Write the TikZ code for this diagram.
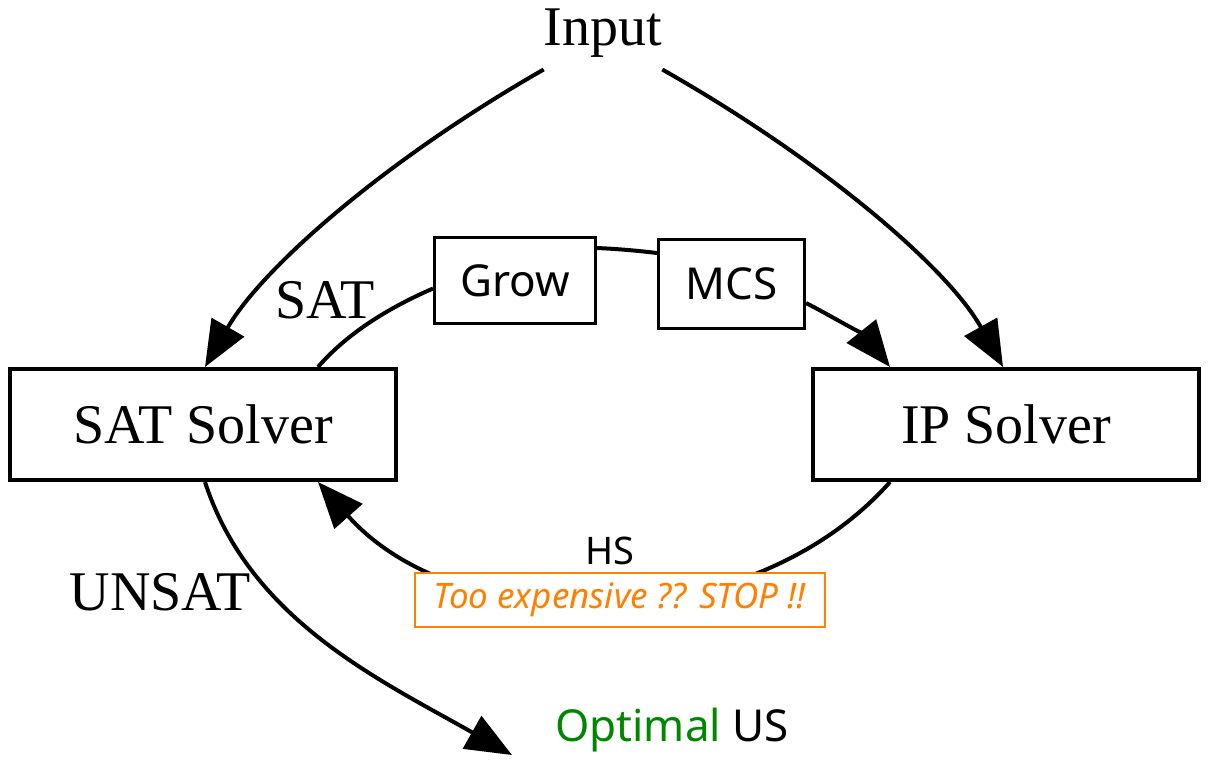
\documentclass[tikz,border=0pt]{standalone}
\usepackage{fontspec}
\setmainfont{Liberation Serif}
\newfontfamily\uisans{Noto Sans}
\usetikzlibrary{arrows.meta,calc}
\definecolor{warnorange}{RGB}{255,128,0}
\definecolor{optgreen}{RGB}{0,135,0}
\begin{document}
\begin{tikzpicture}[x=1pt,y=-1pt,
  seriflabel/.style={inner sep=0pt, font=\fontsize{56}{62}\selectfont},
  solver/.style={draw, line width=4pt, minimum width=386pt, minimum height=111pt, inner sep=0pt, font=\fontsize{56}{62}\selectfont},
  smallbox/.style={draw, line width=3pt, inner sep=0pt, font=\uisans\fontsize{44}{50}\selectfont},
  sanslabel/.style={inner sep=0pt, font=\uisans\fontsize{40}{46}\selectfont},
  edgeline/.style={line width=4pt},
  arr/.style={edgeline, -{Triangle[length=46pt,width=37pt]}},
  warnbox/.style={draw=warnorange, line width=2.5pt, fill=white, text=warnorange, minimum width=410pt, minimum height=54pt, inner sep=0pt, font=\uisans\itshape\fontsize{35}{40}\selectfont}
]
\useasboundingbox (0,0) rectangle (1215,774);

\node[seriflabel] (input) at (603,33) {Input};
\node[solver] (sat) at (203,424.5) {SAT Solver};
\node[solver] (ip) at (1006,424.5) {IP Solver};
\node[smallbox, minimum width=161pt, minimum height=86pt] (grow) at (515,280.5) {Grow};
\node[smallbox, minimum width=146pt, minimum height=89pt] (mcs) at (731.5,284) {MCS};
\node[seriflabel] (satlabel) at (325,300) {SAT};
\node[seriflabel] (unsatlabel) at (160,592) {UNSAT};
\node[sanslabel, font=\uisans\fontsize{38}{44}\selectfont] (hs) at (610,551) {HS};
\node[sanslabel, font=\uisans\fontsize{44}{50}\selectfont] (opt) at (672,730) {{\color{optgreen}Optimal} US};
\coordinate (usend) at (512,755);

% Input -> SAT Solver
\draw[arr] ($(input.south west)+(0,12)$) .. controls (385,160) and (262,268) .. ($(sat.north)+(2,0)$);
% Input -> IP Solver
\draw[arr] ($(input.south east)+(0,12)$) .. controls (822,160) and (948,268) .. ($(ip.north)+(-3,0)$);
% SAT Solver -> Grow
\draw[edgeline] ($(sat.north)+(115,0)$) .. controls (350,330) and (395,305) .. ($(grow.west)+(0,8)$);
% Grow -> MCS
\draw[edgeline] ($(grow.north east)+(0,12)$) .. controls (620,249) and (640,251) .. ($(mcs.north west)+(0,15)$);
% MCS -> IP Solver
\draw[arr] ($(mcs.east)+(0,19)$) .. controls (835,318) and (866,337) .. ($(ip.north)+(-116,0)$);
% IP Solver -> SAT Solver (HS)
\draw[arr] ($(ip.south)+(-116,0)$) .. controls (750,640) and (458,640) .. ($(sat.south)+(115,0)$);
% SAT Solver -> Optimal US
\draw[arr] ($(sat.south)+(2,0)$) .. controls (250,620) and (380,680) .. (usend);

\node[warnbox] (warn) at (620,600) {Too expensive ?? STOP !!};
\end{tikzpicture}
\end{document}
